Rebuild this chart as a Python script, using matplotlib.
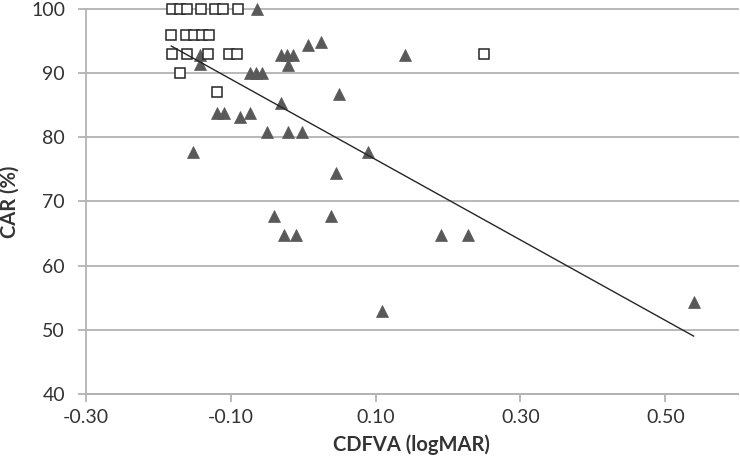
import numpy as np
import matplotlib
matplotlib.use("Agg")
import matplotlib.pyplot as plt

plt.rcParams["font.family"] = ["Lato", "DejaVu Sans"]

# ── Données ────────────────────────────────────────────────────────────────────

# carrés blancs (groupe 1)
sq_x = [-0.181, -0.170, -0.160, -0.141, -0.122, -0.111, -0.090,
        -0.182, -0.162, -0.151, -0.140, -0.130,
        -0.181, -0.160, -0.131, -0.102, -0.091, 0.250,
        -0.170, -0.119]
sq_y = [100, 100, 100, 100, 100, 100, 100,
        96, 96, 96, 96, 96,
        93, 93, 93, 93, 93, 93,
        90, 87]

# triangles gris (groupe 2)
tri_x = [-0.064, 0.007, 0.025, -0.031, -0.022, -0.014, -0.021, -0.142, -0.142,
         0.140, -0.073, -0.065, -0.057, 0.050, -0.031, -0.119, -0.109, -0.087,
         -0.074, -0.050, -0.021, -0.001, -0.152, 0.089, 0.045, -0.040, 0.039,
         -0.027, -0.010, 0.190, 0.228, 0.109, 0.539]
tri_y = [100, 94.4, 94.9, 92.8, 92.8, 92.8, 91.3, 92.8, 91.4,
         92.8, 90, 90, 90, 86.8, 85.3, 83.8, 83.8, 83.2,
         83.8, 80.8, 80.8, 80.8, 77.7, 77.7, 74.4, 67.7, 67.7,
         64.8, 64.8, 64.8, 64.8, 52.9, 54.3]

# droite de régression
FIT_SLOPE = -62.7
FIT_INTERCEPT = 82.8

x_ticks = [-0.30, -0.10, 0.10, 0.30, 0.50]
y_ticks = [40, 50, 60, 70, 80, 90, 100]

GRID = "#b3b3b3"
TEXT = "#333333"

# ── Figure ─────────────────────────────────────────────────────────────────────

fig = plt.figure(figsize=(7.4, 4.7), dpi=100, facecolor="white")
ax = fig.add_axes([0.116, 0.162, 0.881, 0.819])

ax.set_xlim(-0.30, 0.60)
ax.set_ylim(40, 100)

for yv in y_ticks:
    ax.axhline(yv, color=GRID, lw=1.3, zorder=1, clip_on=False)

all_x = np.array(sq_x + tri_x)
xs = np.array([all_x.min(), all_x.max()])
ax.plot(xs, FIT_INTERCEPT + FIT_SLOPE * xs, color="#262626", lw=1.0, zorder=4)

ax.plot(tri_x, tri_y, "^", ms=9, color="#595959", mec="#595959", mew=0.5,
        ls="none", zorder=3, clip_on=False)
ax.plot(sq_x, sq_y, "s", ms=7.5, mfc="white", mec="#262626", mew=1.1,
        ls="none", zorder=3, clip_on=False)

ax.set_xticks(x_ticks)
ax.set_xticklabels([f"{v:.2f}" for v in x_ticks])
ax.set_yticks(y_ticks)

for side in ("top", "right"):
    ax.spines[side].set_visible(False)
for side in ("left", "bottom"):
    ax.spines[side].set_color(GRID)
    ax.spines[side].set_linewidth(1.3)

ax.tick_params(axis="both", colors=GRID, length=6, width=1.3,
               labelsize=14, labelcolor=TEXT)
ax.tick_params(axis="y", pad=9)
ax.tick_params(axis="x", pad=5)

ax.set_xlabel("CDFVA (logMAR)", fontsize=14.5, fontweight="bold",
              color=TEXT, labelpad=6)
ax.set_ylabel("CAR (%)", fontsize=14.5, fontweight="bold",
              color=TEXT, labelpad=8)

fig.savefig("out.png", dpi=100)
